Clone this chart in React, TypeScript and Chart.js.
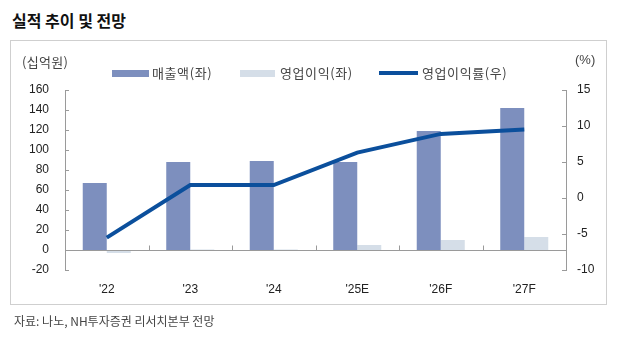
import React, { useEffect, useRef } from "react";
import { Chart, registerables } from "chart.js";

Chart.register(...registerables);

const categories = ["'22", "'23", "'24", "'25E", "'26F", "'27F"];
const revenue = [67, 88, 89, 88, 119, 142];
const operatingProfit = [-3, 0.5, 0.5, 5, 10, 13];
const opMargin = [-5.5, 1.8, 1.8, 6.3, 8.9, 9.5];
const leftTicks = { min: -20, max: 160, step: 20 };
const rightTicks = { min: -10, max: 15, step: 5 };

const REV_COLOR = "#7d8fbe";
const OP_COLOR = "#d5dee8";
const LINE_COLOR = "#0b4f9c";
const AXIS_COLOR = "#9a9a9a";
const NUM_FONT = "'Liberation Sans', Arial, sans-serif";
const KR_FONT = "'Noto Sans CJK KR', 'Noto Sans', sans-serif";

const tickPlugin = {
  id: "customTicks",
  afterDatasetsDraw(chart: any) {
    const { ctx, scales } = chart;
    const x = scales.x;
    const y = scales.y;
    const y1 = scales.y1;
    ctx.save();
    ctx.strokeStyle = AXIS_COLOR;
    ctx.lineWidth = 1;
    const zy = Math.round(y.getPixelForValue(0)) + 0.5;
    ctx.beginPath();
    ctx.moveTo(x.left, zy);
    ctx.lineTo(x.right, zy);
    ctx.stroke();
    const n = categories.length;
    const w = (x.right - x.left) / n;
    for (let i = 1; i < n; i++) {
      const px = Math.round(x.left + i * w) + 0.5;
      ctx.beginPath();
      ctx.moveTo(px, zy);
      ctx.lineTo(px, zy - 5);
      ctx.stroke();
    }
    y.ticks.forEach((t: any) => {
      const py = Math.round(y.getPixelForValue(t.value)) + 0.5;
      ctx.beginPath();
      ctx.moveTo(y.right, py);
      ctx.lineTo(y.right + 4, py);
      ctx.stroke();
    });
    y1.ticks.forEach((t: any) => {
      const py = Math.round(y1.getPixelForValue(t.value)) + 0.5;
      ctx.beginPath();
      ctx.moveTo(y1.left, py);
      ctx.lineTo(y1.left - 4, py);
      ctx.stroke();
    });
    ctx.restore();
  },
};

export default function App() {
  const ref = useRef<HTMLCanvasElement | null>(null);

  useEffect(() => {
    if (!ref.current) return;
    const chart = new Chart(ref.current, {
      type: "bar",
      data: {
        labels: categories,
        datasets: [
          {
            type: "line",
            label: "영업이익률(우)",
            data: opMargin,
            yAxisID: "y1",
            borderColor: LINE_COLOR,
            backgroundColor: LINE_COLOR,
            borderWidth: 4,
            pointRadius: 0,
            tension: 0,
            order: 0,
          } as any,
          {
            type: "bar",
            label: "매출액(좌)",
            data: revenue,
            yAxisID: "y",
            backgroundColor: REV_COLOR,
            barPercentage: 1,
            categoryPercentage: 0.575,
            order: 1,
          },
          {
            type: "bar",
            label: "영업이익(좌)",
            data: operatingProfit,
            yAxisID: "y",
            backgroundColor: OP_COLOR,
            barPercentage: 1,
            categoryPercentage: 0.575,
            order: 1,
          },
        ],
      },
      options: {
        animation: false,
        responsive: false,
        maintainAspectRatio: false,
        layout: { padding: { top: 90, left: 0, right: 0, bottom: 0 }, autoPadding: false } as any,
        plugins: { legend: { display: false }, tooltip: { enabled: false } },
        scales: {
          x: {
            grid: { display: false },
            border: { display: false },
            ticks: { font: { family: NUM_FONT, size: 12 }, color: "#222", padding: 4 },
            afterFit: (s: any) => {
              s.height = 68;
            },
          },
          y: {
            position: "left",
            min: leftTicks.min,
            max: leftTicks.max,
            grid: { display: false, drawTicks: false },
            border: { display: true, color: AXIS_COLOR },
            ticks: {
              stepSize: leftTicks.step,
              font: { family: NUM_FONT, size: 12 },
              color: "#222",
              padding: 16,
            },
            afterFit: (s: any) => {
              s.width = 65;
            },
          },
          y1: {
            position: "right",
            min: rightTicks.min,
            max: rightTicks.max,
            grid: { display: false, drawTicks: false },
            border: { display: true, color: AXIS_COLOR },
            ticks: {
              stepSize: rightTicks.step,
              font: { family: NUM_FONT, size: 12 },
              color: "#222",
              padding: 11,
            },
            afterFit: (s: any) => {
              s.width = 54;
            },
          },
        },
      },
      plugins: [tickPlugin],
    });
    return () => chart.destroy();
  }, []);

  const legendText: React.CSSProperties = {
    position: "absolute",
    top: 64,
    fontFamily: KR_FONT,
    fontSize: 13,
    letterSpacing: 0.6,
    color: "#444",
    lineHeight: "18px",
    whiteSpace: "nowrap",
  };

  return (
    <div style={{ position: "absolute", left: 0, top: 0, width: 620, height: 338, background: "#fff", overflow: "hidden" }}>
      <div
        style={{
          position: "absolute",
          left: 12,
          top: 9,
          fontFamily: KR_FONT,
          fontWeight: 700,
          fontSize: 16,
          color: "#111",
          lineHeight: "22px",
          whiteSpace: "nowrap",
        }}
      >
        실적 추이 및 전망
      </div>
      <div
        style={{
          position: "absolute",
          left: 10,
          top: 40,
          width: 597,
          height: 265,
          border: "1px solid #cfcfcf",
          boxSizing: "border-box",
        }}
      />
      <canvas ref={ref} width={620} height={338} style={{ position: "absolute", left: 0, top: 0 }} />
      <div style={{ ...legendText, left: 22, top: 53, fontSize: 13, letterSpacing: 0.3 }}>(십억원)</div>
      <div style={{ ...legendText, left: 575, top: 51, fontFamily: NUM_FONT, letterSpacing: 0 }}>(%)</div>
      <div style={{ position: "absolute", left: 112, top: 70, width: 37, height: 7, background: REV_COLOR }} />
      <div style={{ ...legendText, left: 152 }}>매출액(좌)</div>
      <div style={{ position: "absolute", left: 240, top: 70, width: 35, height: 7, background: OP_COLOR }} />
      <div style={{ ...legendText, left: 280 }}>영업이익(좌)</div>
      <div style={{ position: "absolute", left: 379, top: 71, width: 39, height: 4, background: LINE_COLOR }} />
      <div style={{ ...legendText, left: 422 }}>영업이익률(우)</div>
      <div
        style={{
          position: "absolute",
          left: 14,
          top: 312,
          fontFamily: KR_FONT,
          fontSize: 12,
          color: "#444",
          lineHeight: "18px",
          whiteSpace: "nowrap",
        }}
      >
        자료: 나노, NH투자증권 리서치본부 전망
      </div>
    </div>
  );
}
